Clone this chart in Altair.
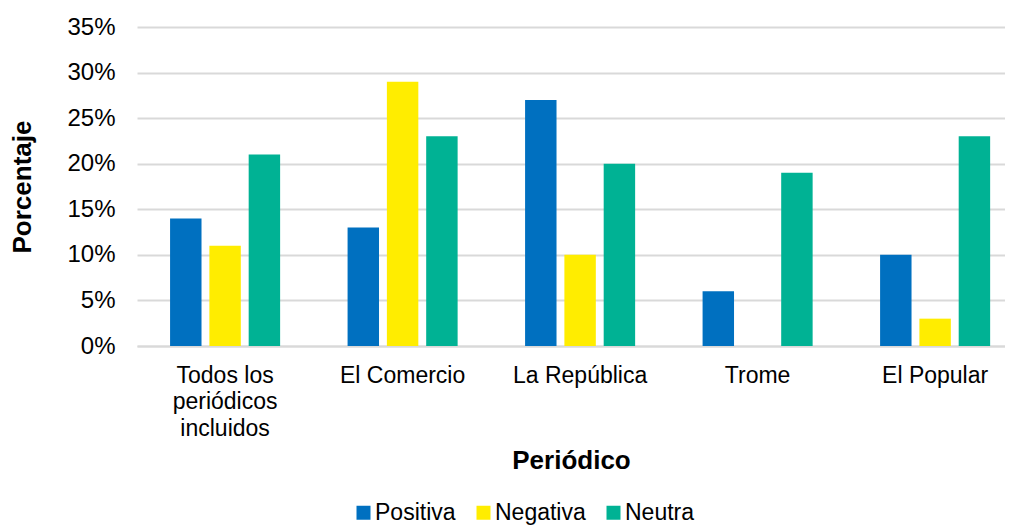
import altair as alt
import pandas as pd

categories = ["Todos los|periódicos|incluidos", "El Comercio", "La República", "Trome", "El Popular"]
series = ["Positiva", "Negativa", "Neutra"]
positiva = [14, 13, 27, 6, 10]
negativa = [11, 29, 10, 0, 3]
neutra = [21, 23, 20, 19, 23]
colors = ["#0070C0", "#FFED00", "#00B294"]

rows = []
for i, c in enumerate(categories):
    for s, vals in zip(series, [positiva, negativa, neutra]):
        rows.append({"Periódico": c, "Serie": s, "Valor": vals[i] / 100})
df = pd.DataFrame(rows)

font = "Liberation Sans"

chart = alt.Chart(df).mark_bar().encode(
    x=alt.X("Periódico:N", sort=categories,
            scale=alt.Scale(paddingInner=0.38, paddingOuter=0.135, align=0.69),
            axis=alt.Axis(title="Periódico", labelAngle=0,
                          labelExpr="split(datum.label, '|')",
                          labelFontSize=23, labelFont=font, labelColor="#000",
                          labelLineHeight=26.5, labelPadding=18, labelBaseline="top",
                          titleFont=font, titleFontSize=26, titleFontWeight="bold",
                          titleColor="#000", titlePadding=7,
                          ticks=False, domainColor="#d9d9d9", domainWidth=2)),
    xOffset=alt.XOffset("Serie:N", sort=series,
                        scale=alt.Scale(paddingInner=0.2, paddingOuter=0)),
    y=alt.Y("Valor:Q", scale=alt.Scale(domain=[0, 0.35]),
            axis=alt.Axis(title="Porcentaje", format=".0%", values=[0, 0.05, 0.1, 0.15, 0.2, 0.25, 0.3, 0.35],
                          labelFontSize=24, labelFont=font, labelColor="#000", labelPadding=22,
                          titleFont=font, titleFontSize=26, titleFontWeight="bold",
                          titleColor="#000", titlePadding=31,
                          ticks=False, domain=False, gridColor="#d9d9d9", gridWidth=2)),
    color=alt.Color("Serie:N", sort=series,
                    scale=alt.Scale(domain=series, range=colors),
                    legend=alt.Legend(title=None, orient="none", direction="horizontal",
                                      legendX=215, legendY=474,
                                      symbolType="square", symbolSize=196, symbolStrokeWidth=0,
                                      labelFont=font, labelFontSize=23, labelColor="#000",
                                      columnPadding=16, labelOffset=0)),
).properties(
    width=868, height=319,
    autosize=alt.AutoSizeParams(type="none"),
    padding={"top": 19, "left": 129, "right": 0, "bottom": 179},
).configure_view(stroke=None)

chart.save("out.html", embed_options={"renderer": "svg", "actions": False})
